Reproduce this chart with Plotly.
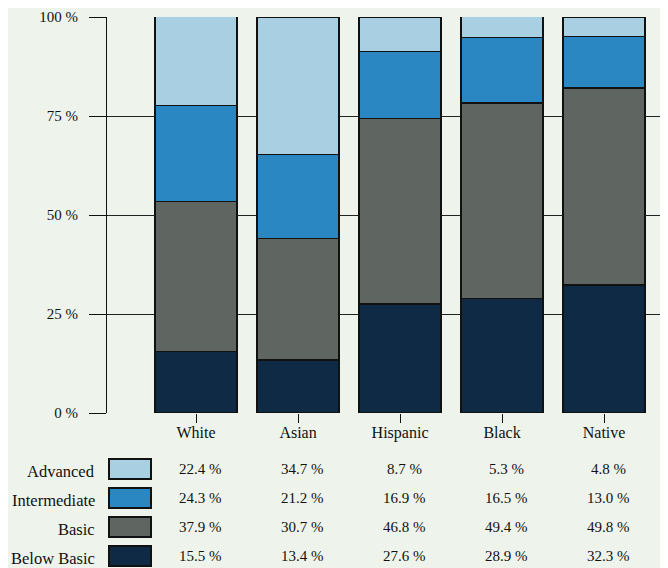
import plotly.graph_objects as go

categories = ["White", "Asian", "Hispanic", "Black", "Native"]
levels = ["Below Basic", "Basic", "Intermediate", "Advanced"]
below_basic = [15.5, 13.4, 27.6, 28.9, 32.3]
basic = [37.9, 30.7, 46.8, 49.4, 49.8]
intermediate = [24.3, 21.2, 16.9, 16.5, 13.0]
advanced = [22.4, 34.7, 8.7, 5.3, 4.8]
y_ticks = [0, 25, 50, 75, 100]
y_tick_labels = ["0 %", "25 %", "50 %", "75 %", "100 %"]

series = {
    "Below Basic": below_basic,
    "Basic": basic,
    "Intermediate": intermediate,
    "Advanced": advanced,
}
colors = {
    "Advanced": "#a9cfe2",
    "Intermediate": "#2a87c1",
    "Basic": "#5f6561",
    "Below Basic": "#0e2a45",
}

BG = "#eef4ec"
FONT = "'Liberation Serif', 'DejaVu Serif', serif"
OFF = 8  # page body margin in the browser
W, H = 668 - OFF, 568 - OFF
# plot area in window pixels: x 107..667, y 17..413
L, R, T, B = 107 - OFF, 1, 17 - OFF, 155
PW, PH = W - L - R, H - T - B

def px(xw):
    return (xw - OFF - L) / PW

def py(yw):
    return (H - B - (yw - OFF)) / PH

fig = go.Figure()
for lvl in levels:
    fig.add_trace(go.Bar(
        x=list(range(len(categories))),
        y=series[lvl],
        name=lvl,
        width=0.8,
        marker=dict(color=colors[lvl], line=dict(color="#111111", width=1.6)),
        showlegend=False,
    ))

row_order = ["Advanced", "Intermediate", "Basic", "Below Basic"]
row_y = {"Advanced": 469, "Intermediate": 498, "Basic": 527, "Below Basic": 556}
annotations = []
shapes = []
for lvl in row_order:
    yc = row_y[lvl]
    annotations.append(dict(
        text=lvl, x=px(97), y=py(yc + 2), xref="paper", yref="paper",
        xanchor="right", yanchor="middle", showarrow=False,
        font=dict(family=FONT, size=16.5, color="#111111"),
    ))
    shapes.append(dict(
        type="rect", xref="paper", yref="paper",
        x0=px(109), x1=px(151), y0=py(yc - 10), y1=py(yc + 10),
        fillcolor=colors[lvl], line=dict(color="#111111", width=2),
    ))
    for i, v in enumerate(series[lvl]):
        annotations.append(dict(
            text=f"{v:.1f} %", x=i + 0.04, y=py(yc), xref="x", yref="paper",
            xanchor="center", yanchor="middle", showarrow=False,
            font=dict(family=FONT, size=15, color="#111111"),
        ))

fig.update_layout(
    width=W, height=H,
    margin=dict(l=L, r=R, t=T, b=B, pad=0),
    paper_bgcolor=BG, plot_bgcolor=BG,
    barmode="stack", bargap=0.2,
    font=dict(family=FONT, size=15, color="#111111"),
    annotations=annotations,
    shapes=shapes,
)
fig.update_xaxes(
    range=[-0.873, 4.617],
    tickmode="array", tickvals=list(range(len(categories))), ticktext=categories,
    ticks="outside", ticklen=9, tickwidth=1.2, tickcolor="#111111",
    ticklabelstandoff=-4,
    showgrid=False, showline=False, zeroline=False,
    tickfont=dict(family=FONT, size=16, color="#111111"),
)
fig.update_yaxes(
    range=[0, 100],
    tickmode="array", tickvals=y_ticks, ticktext=y_tick_labels,
    ticks="outside", ticklen=17, tickwidth=1.2, tickcolor="#111111",
    ticklabelstandoff=8,
    showgrid=True, gridcolor="#222222", gridwidth=1.2,
    showline=True, linecolor="#111111", linewidth=1.2, mirror=True,
    zeroline=False,
    tickfont=dict(family=FONT, size=15, color="#111111"),
)

fig.write_html("out.html")
